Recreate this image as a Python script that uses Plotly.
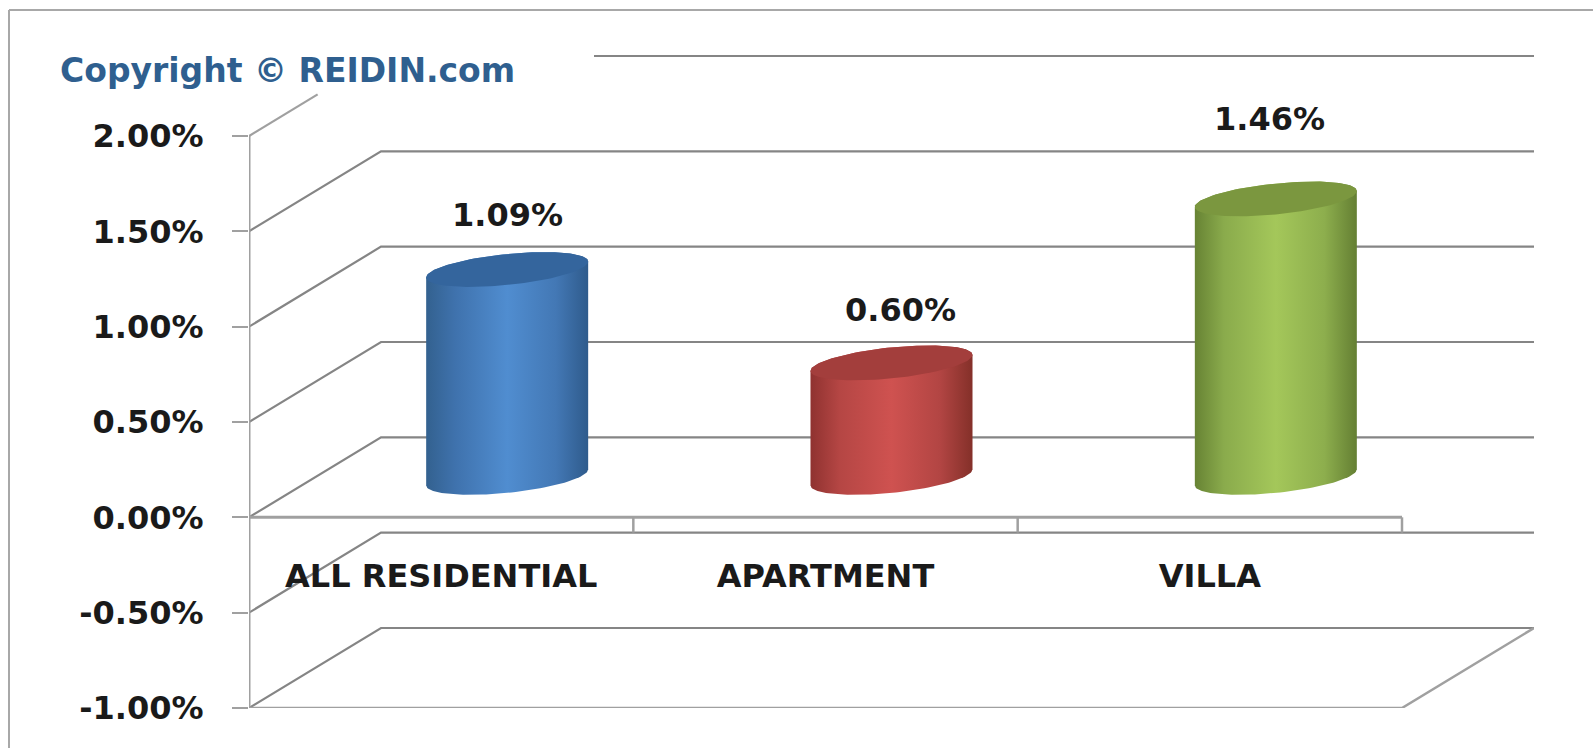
import numpy as np
import plotly.graph_objects as go

categories = ["ALL RESIDENTIAL", "APARTMENT", "VILLA"]
values = [1.09, 0.60, 1.46]
y_ticks = [2.0, 1.5, 1.0, 0.5, 0.0, -0.5, -1.0]
y_tick_labels = ["2.00%", "1.50%", "1.00%", "0.50%", "0.00%", "-0.50%", "-1.00%"]
copyright_text = "Copyright © REIDIN.com"

# --- geometry (plot pixels -> data units) ---
W, H = 1593, 748
PL, PR, PT, PB = 249, 1534, 46, 708
UX = (1402 - 249) / 3          # px per category
UY = (708 - 136) / 3           # px per 1%
XMIN, XMAX = -0.5, -0.5 + (PR - PL) / UX
YMIN, YMAX = -1.0, -1.0 + (PB - PT) / UY
DX, DY = 132 / UX, 80 / UY     # full depth of the 3D box
RX, RC, RB = 81 / UX, 8 / UY, 15.5 / UY   # cylinder ellipse

GRID = "#858585"
AXIS = "#a0a0a0"
FONT = "DejaVu Sans"
TXT = "#1a1a1a"

fig = go.Figure()

def line(xs, ys, color=GRID, width=2.2):
    fig.add_trace(go.Scatter(x=xs, y=ys, mode="lines", hoverinfo="skip", showlegend=False,
                             line=dict(color=color, width=width)))

xl, xr = XMIN, XMIN + 3
top = max(y_ticks)
low = min(y_ticks)
for v in y_ticks:
    if v == top:   # the top wall line is hidden behind the copyright box
        f = 0.52
        line([xl, xl + DX * f], [v, v + DY * f], AXIS)
        line([xl + 345 / UX, xr + DX], [v + DY, v + DY])
    else:
        line([xl, xl + DX, xr + DX], [v, v + DY, v + DY])
line([xl, xl], [low, top], AXIS, 3)
line([xl, xr], [0, 0], AXIS, 3)
line([xl, xr, xr + DX], [low, low, low + DY], AXIS, 2.5)
for i in range(len(categories)):
    line([xl + i + 1, xl + i + 1], [0, -0.08], AXIS, 2.5)

gradients = [
    [[0, "#33618f"], [0.18, "#3f72ad"], [0.5, "#508dd0"], [0.8, "#4378b5"], [1, "#2f5b8c"]],
    [[0, "#8f3230"], [0.18, "#b54644"], [0.5, "#cf5250"], [0.8, "#b24543"], [1, "#843029"]],
    [[0, "#678334"], [0.18, "#8aab4c"], [0.5, "#a4c75a"], [0.8, "#8dae4d"], [1, "#647f33"]],
]
caps = ["#34659d", "#a33e3c", "#7b973f"]
label_dx = [0, 9, -6]
label_dy = [55, 53, 80]

t = np.linspace(0, 2 * np.pi, 121)
for i, v in enumerate(values):
    cx = i + DX / 2
    base = DY / 2
    tip = v + DY / 2
    ex = RX * np.cos(t)
    ey = RC * np.cos(t) + RB * np.sin(t)
    upper, lower = t <= np.pi, t >= np.pi
    bx = np.concatenate([cx + ex[upper], cx + ex[lower]])
    by = np.concatenate([tip + ey[upper], base + ey[lower]])
    fig.add_trace(go.Scatter(x=bx, y=by, mode="lines", fill="toself", hoverinfo="skip", showlegend=False,
                             line=dict(width=0, color="rgba(0,0,0,0)"),
                             fillgradient=dict(type="horizontal", colorscale=gradients[i])))
    fig.add_trace(go.Scatter(x=cx + ex, y=tip + ey, mode="lines", fill="toself", hoverinfo="skip", showlegend=False,
                             line=dict(width=0, color="rgba(0,0,0,0)"), fillcolor=caps[i]))
    fig.add_annotation(x=cx, y=tip, text=f"{v:.2f}%", showarrow=False, xanchor="center", yanchor="middle",
                       xshift=label_dx[i], yshift=label_dy[i],
                       font=dict(family=FONT, size=32, color=TXT, weight=700))

fig.add_annotation(xref="paper", yref="paper", x=(58 - PL) / (PR - PL), y=(PB - 71) / (PB - PT),
                   text=copyright_text, showarrow=False, xanchor="left", yanchor="middle",
                   font=dict(family=FONT, size=33, color="#2f5f8f", weight=700))

# chart frame
FX = 9
fig.add_shape(type="line", xref="paper", yref="paper", x0=(FX - PL) / (PR - PL), x1=(W - PL) / (PR - PL),
              y0=(PB - 10) / (PB - PT), y1=(PB - 10) / (PB - PT), line=dict(color="#a8a8a8", width=2))
fig.add_shape(type="line", xref="paper", yref="paper", x0=(FX - PL) / (PR - PL), x1=(FX - PL) / (PR - PL),
              y0=(PB - 10) / (PB - PT), y1=(PB - H) / (PB - PT), line=dict(color="#a8a8a8", width=2))

fig.update_layout(
    width=W, height=H, margin=dict(l=PL, r=W - PR, t=PT, b=H - PB, autoexpand=False),
    paper_bgcolor="white", plot_bgcolor="white", showlegend=False,
    xaxis=dict(range=[XMIN, XMAX], showgrid=False, zeroline=False, showline=False,
               anchor="free", position=(0 - YMIN) / (YMAX - YMIN),
               tickmode="array", tickvals=list(range(len(categories))), ticktext=categories,
               ticks="", ticklabelstandoff=37,
               tickfont=dict(family=FONT, size=32, color=TXT, weight=700)),
    yaxis=dict(range=[YMIN, YMAX], showgrid=False, zeroline=False, showline=False,
               tickmode="array", tickvals=y_ticks, ticktext=y_tick_labels,
               ticks="outside", ticklen=16, tickwidth=2, tickcolor=AXIS,
               ticklabelstandoff=22,
               tickfont=dict(family=FONT, size=32, color=TXT, weight=700)),
)

fig.write_html("out.html", config={"displayModeBar": False},
               post_script="document.body.style.margin='0';document.body.style.overflow='hidden';")
